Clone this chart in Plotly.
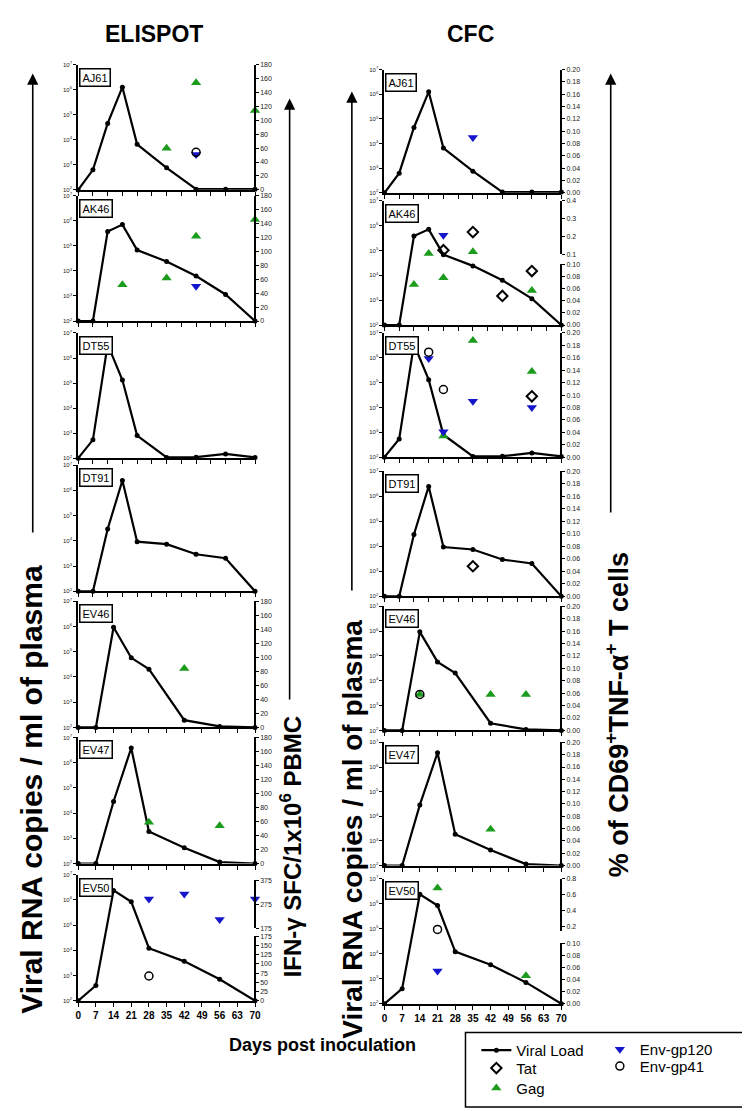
import plotly.graph_objects as go

W, H = 750, 1111
FONT = "Arial, Liberation Sans, Helvetica, sans-serif"

# ---------------- data ----------------
animals = ["AJ61", "AK46", "DT55", "DT91", "EV46", "EV47", "EV50"]
days_long = [0, 7, 14, 21, 28, 42, 56, 70, 84]      # AJ61, AK46, DT55, DT91
days_short = [0, 7, 14, 21, 28, 42, 56, 70]         # EV46, EV47, EV50
log_tick_labels = ["10<sup>%d</sup>" % k for k in range(2, 8)]

# viral RNA copies / ml of plasma
vl_AJ61 = [100, 630, 45000, 1.26e6, 6600, 760, 107, 107, 107]
vl_AK46 = [100, 100, 380000, 710000, 68000, 24000, 6300, 1150, 100]
vl_DT55 = [100, 540, 3.5e6, 132000, 800, 107, 110, 148, 107]
vl_DT91 = [100, 100, 29500, 2.45e6, 9300, 7400, 2950, 2040, 100]
vl_EV46 = [100, 100, 930000, 57500, 20400, 195, 110, 100]
vl_EV47 = [100, 100, 29000, 3.8e6, 1860, 427, 115, 100]
vl_EV50 = [100, 400, 2.35e6, 830000, 12000, 3630, 710, 100]
viral_load = {"AJ61": vl_AJ61, "AK46": vl_AK46, "DT55": vl_DT55, "DT91": vl_DT91,
              "EV46": vl_EV46, "EV47": vl_EV47, "EV50": vl_EV50}

# ELISPOT: IFN-gamma SFC / 1e6 PBMC  -> (days, values)
elispot_gag = {"AJ61": ([42, 56, 84], [60, 154, 114]),
               "AK46": ([21, 42, 56, 84], [52, 62, 122, 146]),
               "EV46": ([42], [84]),
               "EV47": ([28, 56], [59, 54])}
elispot_gp120 = {"AJ61": ([56], [51]),
                 "AK46": ([56], [50]),
                 "EV50": ([28, 42, 56, 70], [297, 318, 211, 297])}
elispot_gp41 = {"AJ61": ([56], [54]),
                "EV50": ([28], [67])}
elispot_tat = {}

# CFC: % of CD69+TNF-a+ T cells -> (days, values)
cfc_gag = {"AK46": ([14, 21, 28, 42, 70], [0.067, 0.106, 0.078, 0.115, 0.057]),
           "DT55": ([28, 42, 70], [0.034, 0.188, 0.138]),
           "EV46": ([14, 42, 56], [0.058, 0.058, 0.058]),
           "EV47": ([42], [0.059]),
           "EV50": ([21, 56], [0.68, 0.046])}
cfc_tat = {"AK46": ([28, 42, 56, 70], [0.124, 0.225, 0.048, 0.089]),
           "DT55": ([70], [0.098]),
           "DT91": ([42], [0.048])}
cfc_gp120 = {"AJ61": ([42], [0.09]),
             "AK46": ([28], [0.207]),
             "DT55": ([21, 28, 42, 70], [0.159, 0.041, 0.090, 0.080]),
             "EV50": ([21], [0.054])}
cfc_gp41 = {"DT55": ([21, 28], [0.169, 0.109]),
            "EV46": ([14], [0.058]),
            "EV50": ([21], [0.16])}

# ---------------- styles ----------------
series_style = {
    "Gag": dict(symbol="triangle-up", color="#1c9c1c", size=9, line=dict(width=0)),
    "Tat": dict(symbol="diamond-open", color="black", size=8, line=dict(width=2, color="black")),
    "Env-gp120": dict(symbol="triangle-down", color="#1515cc", size=9, line=dict(width=0)),
    "Env-gp41": dict(symbol="circle-open", color="black", size=8, line=dict(width=1.5, color="black")),
}
legend_of = {"Viral Load": "legend", "Tat": "legend2", "Gag": "legend3",
             "Env-gp120": "legend4", "Env-gp41": "legend5"}

# ---------------- geometry (pixels) ----------------
col_x = {"ELISPOT": (68, 247), "CFC": (378, 557)}
rows = {"ELISPOT": [(53, 179), (185, 311), (323, 449), (456, 583), (593, 720), (730, 857), (868, 995)],
        "CFC": [(58, 182), (190, 315), (323, 448), (462, 588), (598, 723), (735, 859), (872, 998)]}


def yd(top, bottom):
    return [1 - bottom / H, 1 - top / H]


def fmt2(v):
    return "%.2f" % v


def right_segments(assay, animal, top, bottom):
    """list of (top_px, bottom_px, range, tickvals, ticktext)"""
    if assay == "ELISPOT":
        if animal == "EV50":
            return [(930, 995, [0, 175], list(range(0, 176, 25)), [str(v) for v in range(0, 176, 25)]),
                    (874, 922, [175, 375], [175, 275, 375], ["175", "275", "375"])]
        tv = list(range(0, 181, 20))
        return [(top, bottom, [0, 180], tv, [str(v) for v in tv])]
    else:
        lowv = [i * 0.02 for i in range(6)]
        if animal == "AK46":
            return [(254, 315, [0, 0.10], lowv, [fmt2(v) for v in lowv]),
                    (190, 244, [0.1, 0.4], [0.1, 0.2, 0.3, 0.4], ["0.1", "0.2", "0.3", "0.4"])]
        if animal == "EV50":
            return [(937, 998, [0, 0.10], lowv, [fmt2(v) for v in lowv]),
                    (872, 925, [0.1375, 0.8], [0.2, 0.4, 0.6, 0.8], ["0.2", "0.4", "0.6", "0.8"])]
        tv = [i * 0.02 for i in range(11)]
        return [(top, bottom, [0, 0.20], tv, [fmt2(v) for v in tv])]


fig = go.Figure()
layout = {}
annotations = []
counter = {"x": 0, "y": 0}
legend_shown = set()


def new_axis(kind):
    counter[kind] += 1
    n = counter[kind]
    return (f"{kind}axis" if n == 1 else f"{kind}axis{n}"), (kind if n == 1 else f"{kind}{n}")


response_sets = {
    "ELISPOT": [("Gag", elispot_gag), ("Tat", elispot_tat), ("Env-gp120", elispot_gp120), ("Env-gp41", elispot_gp41)],
    "CFC": [("Gag", cfc_gag), ("Tat", cfc_tat), ("Env-gp120", cfc_gp120), ("Env-gp41", cfc_gp41)],
}

for assay in ["ELISPOT", "CFC"]:
    xl, xr = col_x[assay]
    for i, animal in enumerate(animals):
        top, bottom = rows[assay][i]
        long_axis = animal in ("AJ61", "AK46", "DT55", "DT91")
        days = days_long if long_axis else days_short
        xmax = 84 if long_axis else 70

        xkey, xref = new_axis("x")
        ykey, yref = new_axis("y")
        layout[xkey] = dict(domain=[xl / W, xr / W], range=[0, xmax], anchor=yref,
                            tickmode="linear", tick0=0, dtick=7, ticks="outside", ticklen=4,
                            tickwidth=1.3, tickcolor="black",
                            showline=True, linecolor="black", linewidth=2, showgrid=False,
                            zeroline=False, showticklabels=(animal == "EV50"),
                            tickfont=dict(size=10, family=FONT, color="black", weight="bold"),
                            fixedrange=True)
        layout[ykey] = dict(domain=yd(top, bottom), type="log", range=[2, 7], anchor=xref,
                            tickmode="array", tickvals=[10 ** k for k in range(2, 8)],
                            ticktext=log_tick_labels,
                            ticks="outside", ticklen=3, tickwidth=1, tickcolor="black",
                            showline=True, linecolor="black", linewidth=2, showgrid=False,
                            zeroline=False, tickfont=dict(size=6, family=FONT, color="#222"),
                            fixedrange=True)

        # right axes (broken into two segments for some panels)
        segs = []
        for (st, sb, rng, tv, tt) in right_segments(assay, animal, top, bottom):
            rkey, rref = new_axis("y")
            layout[rkey] = dict(domain=yd(st, sb), range=rng, anchor="free", position=xr / W,
                                side="right", tickmode="array", tickvals=tv, ticktext=tt,
                                ticks="outside", ticklen=3, tickwidth=1, tickcolor="black",
                                showline=True, linecolor="black", linewidth=1.5,
                                showgrid=False, zeroline=False,
                                tickfont=dict(size=7, family=FONT, color="#222"),
                                fixedrange=True)
            segs.append((rng, rref))

        # viral load
        fig.add_trace(go.Scatter(
            x=days, y=viral_load[animal], xaxis=xref, yaxis=yref, mode="lines+markers",
            line=dict(color="black", width=2.2), marker=dict(size=5, color="black"),
            cliponaxis=False, name="Viral Load", legend=legend_of["Viral Load"],
            showlegend=("Viral Load" not in legend_shown), hoverinfo="skip"))
        legend_shown.add("Viral Load")

        # responses
        for sname, sdict in response_sets[assay]:
            if animal not in sdict:
                continue
            dx, dv = sdict[animal]
            for si, (rng, rref) in enumerate(segs):
                if len(segs) == 1:
                    sel = list(zip(dx, dv))
                elif si == 0:
                    sel = [(d, v) for d, v in zip(dx, dv) if v <= rng[1]]
                else:
                    sel = [(d, v) for d, v in zip(dx, dv) if v > segs[0][0][1]]
                if not sel:
                    continue
                fig.add_trace(go.Scatter(
                    x=[s[0] for s in sel], y=[s[1] for s in sel], xaxis=xref, yaxis=rref,
                    mode="markers", marker=series_style[sname], cliponaxis=False, name=sname,
                    legend=legend_of[sname],
                    showlegend=(sname not in legend_shown), hoverinfo="skip"))
                legend_shown.add(sname)

        annotations.append(dict(text=animal, xref="paper", yref="paper", x=(xl + 1) / W,
                                y=1 - (top + 3) / H, xanchor="left", yanchor="top",
                                showarrow=False, font=dict(size=11, family=FONT, color="black"),
                                bordercolor="black", borderwidth=1.5, borderpad=2, bgcolor="white"))


def ptext(text, x, y, size, angle=0, bold=True):
    annotations.append(dict(text=("<b>%s</b>" % text) if bold else text, xref="paper", yref="paper",
                            x=x / W, y=1 - y / H, xanchor="center", yanchor="middle",
                            showarrow=False, textangle=angle,
                            font=dict(size=size, family=FONT, color="black")))


def arrow(x, ytop, ybottom):
    annotations.append(dict(text=" ", xref="paper", yref="paper", x=x / W, y=1 - ytop / H,
                            ax=0, ay=(ybottom - ytop), axref="pixel", ayref="pixel",
                            showarrow=True, arrowhead=2, arrowsize=1.4, arrowwidth=1.6,
                            arrowcolor="black", font=dict(size=4)))


ptext("ELISPOT", 145, 22, 23)
ptext("CFC", 465, 22, 23)
ptext("Days post inoculation", 315, 1040, 18)
ptext("Viral RNA copies / ml of plasma", 20, 782, 30, angle=-90)
ptext("Viral RNA copies / ml of plasma", 346, 822, 28, angle=-90)
ptext("IFN-γ SFC/1x10<sup>6</sup> PBMC", 283, 840, 24, angle=-90)
ptext("% of CD69<sup>+</sup>TNF-α<sup>+</sup> T cells", 613, 707, 27, angle=-90)
arrow(22, 62, 525)
arrow(282, 87, 692)
arrow(345, 80, 583)
arrow(607, 62, 505)


def leg(xpx, ypx):
    return dict(x=xpx / W, y=1 - ypx / H, xanchor="left", yanchor="middle",
                bgcolor="rgba(0,0,0,0)", font=dict(size=15, family=FONT, color="black"),
                tracegroupgap=0)


layout.update(
    width=W, height=H, margin=dict(l=0, r=0, t=0, b=0),
    paper_bgcolor="white", plot_bgcolor="rgba(0,0,0,0)",
    font=dict(family=FONT, color="black"),
    annotations=annotations,
    legend=leg(471, 1045),
    legend2=leg(471, 1063),
    legend3=leg(471, 1083),
    legend4=leg(596, 1044),
    legend5=leg(596, 1061),
    shapes=[dict(type="rect", xref="paper", yref="paper", x0=460 / W, x1=742 / W,
                 y0=1 - 1102 / H, y1=1 - 1027 / H, line=dict(color="black", width=1.5))],
)
fig.update_layout(**layout)
fig.write_html("out.html")
